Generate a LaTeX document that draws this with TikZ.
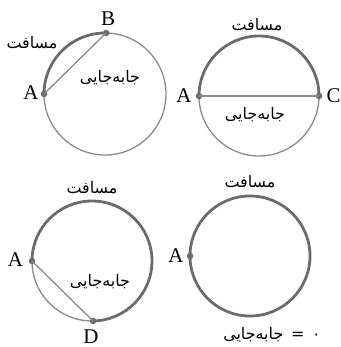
\documentclass[tikz,border=0pt]{standalone}
\usepackage{fontspec}
\usetikzlibrary{calc}
\setmainfont{Liberation Serif}
\newfontfamily\arabicfont[Script=Arabic]{DejaVu Sans}
\TeXXeTstate=1
\definecolor{thickgray}{HTML}{6B6B6B}
\definecolor{thingray}{HTML}{8A8A8A}
\tikzset{
  thickarc/.style={draw=thickgray, line width=2.8bp},
  thinarc/.style={draw=thingray, line width=1.3bp},
  ptdot/.style={circle, fill=thickgray, inner sep=0pt, minimum size=6.5bp},
  lat/.style={font=\fontsize{21}{21}\selectfont, inner sep=0pt, anchor=base},
  per/.style={font=\arabicfont\fontsize{16}{16}\selectfont, inner sep=0pt},
}
\newcommand{\fa}[1]{\beginR #1\endR}
\begin{document}
\begin{tikzpicture}[x=1bp,y=1bp]
\useasboundingbox (0,0) rectangle (341,347);
% ---- circle 1 ----
\coordinate (o1) at (105,253);
\draw[thinarc] (o1) circle (61);
\draw[thickarc] ($(o1)+(180:61)$) arc (180:89:61);
\node[ptdot] (a1) at ($(o1)+(180:61)$) {};
\node[ptdot] (b1) at ($(o1)+(89:61)$) {};
\draw[thinarc] (a1.center) -- (b1.center);
\node[lat] (ta1) at (31,248) {A};
\node[lat] (tb1) at (108,322) {B};
\node[per] (m1) at (32,304) {\fa{مسافت}};
\node[per] (j1) at (110,269) {\fa{جابه‌جایی}};
% ---- circle 2 ----
\coordinate (o2) at (259,251);
\draw[thinarc] (o2) circle (60);
\draw[thickarc] ($(o2)+(0:60)$) arc (0:180:60);
\node[ptdot] (a2) at ($(o2)+(180:60)$) {};
\node[ptdot] (c2) at ($(o2)+(0:60)$) {};
\draw[thinarc] (a2.center) -- (c2.center);
\node[lat] (ta2) at (184,245) {A};
\node[lat] (tc2) at (333.5,245) {C};
\node[per] (m2) at (257,322) {\fa{مسافت}};
\node[per] (j2) at (255,232) {\fa{جابه‌جایی}};
% ---- circle 3 ----
\coordinate (o3) at (92,86);
\draw[thinarc] (o3) circle (60);
\draw[thickarc] ($(o3)+(-89:60)$) arc (-89:180:60);
\node[ptdot] (a3) at ($(o3)+(180:60)$) {};
\node[ptdot] (d3) at ($(o3)+(-89:60)$) {};
\draw[thinarc] (a3.center) -- (d3.center);
\node[lat] (ta3) at (15.5,81) {A};
\node[lat] (td3) at (91,3.5) {D};
\node[per] (m3) at (92,159) {\fa{مسافت}};
\node[per] (j3) at (100,65) {\fa{جابه‌جایی}};
% ---- circle 4 ----
\coordinate (o4) at (250,91);
\draw[thickarc] (o4) circle (60);
\node[ptdot] (a4) at ($(o4)+(180:60)$) {};
\node[lat] (ta4) at (176,85) {A};
\node[per] (m4) at (250,165) {\fa{مسافت}};
\node[per] (j4) at (272,12) {\fa{۰ \,=\, جابه‌جایی}};
\end{tikzpicture}
\end{document}
